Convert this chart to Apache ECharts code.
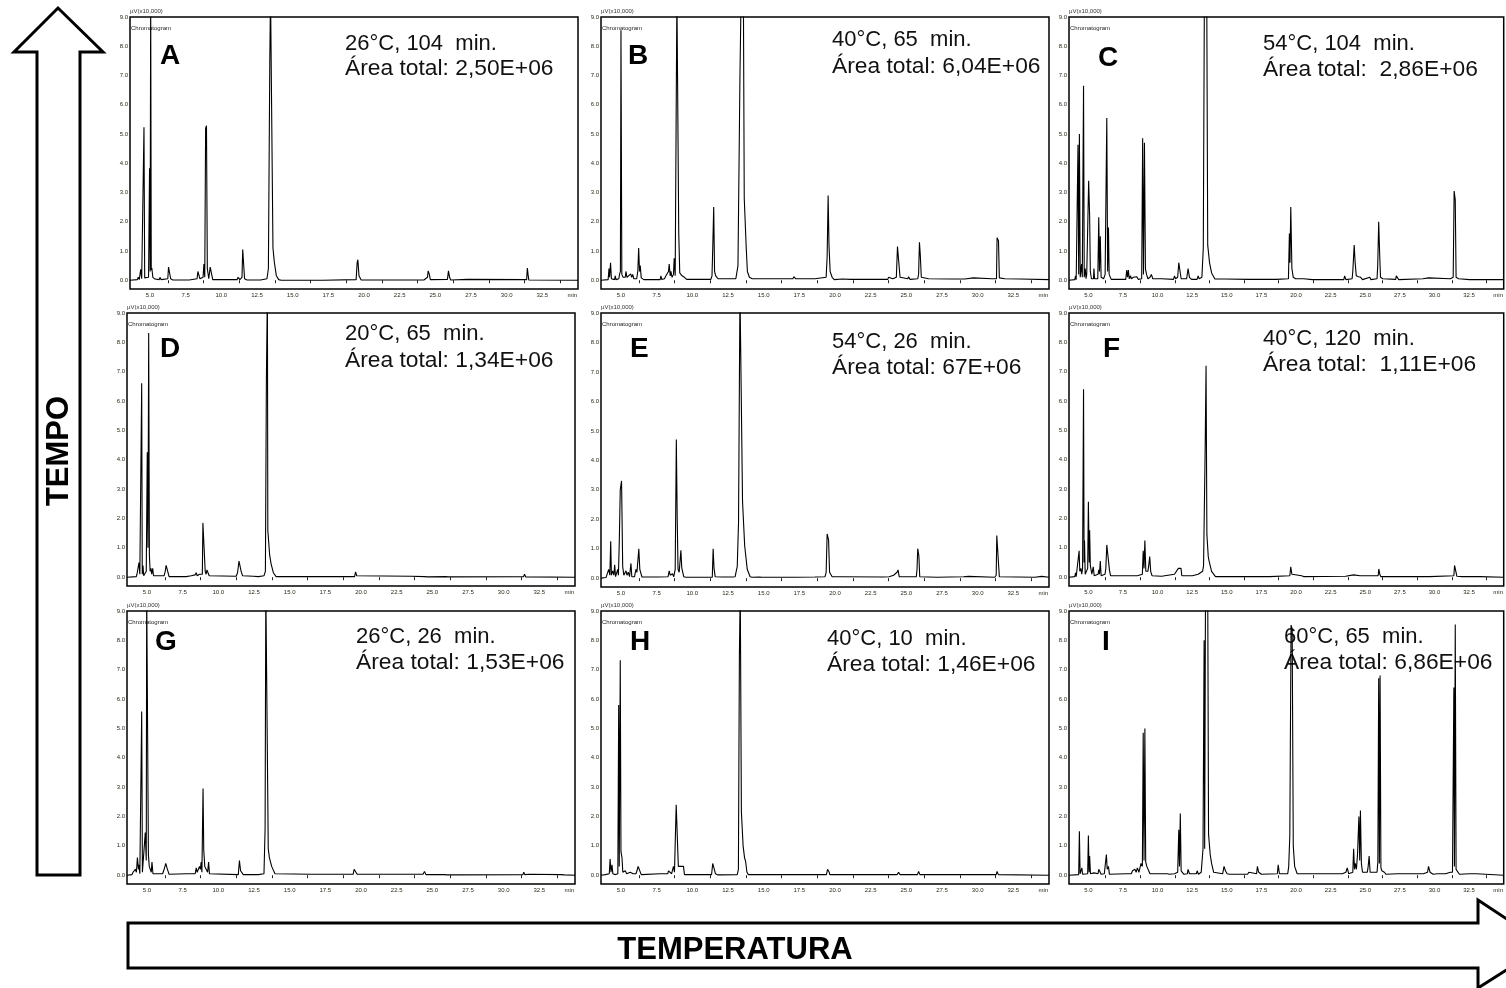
<!DOCTYPE html>
<html>
<head>
    <meta charset='utf-8' />
    <title>Cromatogramas - tempo x temperatura</title>
    <style>
        body {
            margin: 0;
            padding: 0;
            background: #fff;
        }

        #chart {
            position: absolute;
            top: 0;
            left: 0;
            width: 1506px;
            height: 988px;
        }
    </style>
    <script src="https://cdn.jsdelivr.net/npm/echarts@6/dist/echarts.min.js"></script>
</head>
<body>
<div id='chart'></div>
<script type="text/javascript">

    // tick values of every chromatogram
    var xTickLabels = [5.0, 7.5, 10.0, 12.5, 15.0, 17.5, 20.0, 22.5, 25.0, 27.5, 30.0, 32.5];
    var xMinorTicks = [6.25, 8.75, 11.25, 13.75, 16.25, 18.75, 21.25, 23.75, 26.25, 28.75, 31.25, 33.75];
    var xUnitAt = 34.6;
    var yTickLabels = [0, 1, 2, 3, 4, 5, 6, 7, 8, 9];

    var panelLetters = ['A', 'B', 'C', 'D', 'E', 'F', 'G', 'H', 'I'];
    var panelConditions = ['26°C, 104  min.', '40°C, 65  min.', '54°C, 104  min.',
        '20°C, 65  min.', '54°C, 26  min.', '40°C, 120  min.',
        '26°C, 26  min.', '40°C, 10  min.', '60°C, 65  min.'];
    var panelAreas = ['Área total: 2,50E+06', 'Área total: 6,04E+06', 'Área total:  2,86E+06',
        'Área total: 1,34E+06', 'Área total: 67E+06', 'Área total:  1,11E+06',
        'Área total: 1,53E+06', 'Área total: 1,46E+06', 'Área total: 6,86E+06'];

    // [tempo (min), sinal (µV x10,000)]
    var traceA = [[3.6,0],[4.1,0.02],[4.18,0.1],[4.25,0.02],[4.3,0.05],[4.35,0.37],[4.42,0.05],[4.53,0.08],[4.58,5.23],[4.63,0.08],[4.72,0.05],[4.9,0.1],[4.97,3.83],[5.01,0.3],[5.05,9.8],[5.09,0.35],[5.13,0.42],[5.2,0.1],[5.35,0.04],[5.65,0.02],[5.7,0.1],[5.78,0.02],[6.25,0.05],[6.3,0.45],[6.38,0.4],[6.45,0.05],[6.6,0.01],[7.75,0.01],[7.8,0.05],[7.85,0.01],[8.3,0.05],[8.36,0.3],[8.42,0.28],[8.5,0.05],[8.72,0.1],[8.78,0.55],[8.84,0.1],[8.9,5.2],[8.96,5.28],[9.02,0.4],[9.12,0.05],[9.22,0.45],[9.33,0.45],[9.4,0.02],[11.1,0.02],[11.18,0.1],[11.3,0.02],[11.45,0.1],[11.5,1.05],[11.57,1.0],[11.63,0.05],[11.8,0.01],[12.4,0.01],[12.46,0.05],[12.52,0.01],[12.75,0.01],[12.81,0.05],[12.87,0.01],[13.2,0.05],[13.3,0.4],[13.4,7.6],[13.45,9.8],[13.58,9.8],[13.62,1.1],[13.72,0.6],[13.86,0.15],[14.02,0.02],[14.2,0],[17.1,0],[17.12,0.03],[17.15,0],[19.45,0.02],[19.52,0.6],[19.57,0.7],[19.65,0.15],[19.8,0.01],[24.05,0.01],[24.11,0.06],[24.2,0.01],[24.45,0.1],[24.5,0.32],[24.58,0.2],[24.65,0.02],[25.85,0.03],[25.92,0.32],[26.0,0.1],[26.08,0.01],[27.26,0.03],[27.3,0],[31.4,0.02],[31.45,0.42],[31.5,0.2],[31.55,0.01],[35,0]];
    var traceB = [[3.6,0],[4.1,0.02],[4.16,0.4],[4.2,0.1],[4.27,0.6],[4.33,0.05],[4.55,0.02],[4.6,0.15],[4.65,0.02],[4.85,0.05],[4.9,0.2],[4.96,0.3],[5.0,8.55],[5.06,0.2],[5.15,0.1],[5.3,0.1],[5.35,0.3],[5.42,0.1],[5.55,0.1],[5.68,0.22],[5.75,0.1],[5.82,0.2],[5.9,0.05],[6.1,0.05],[6.18,0.3],[6.24,1.1],[6.3,0.3],[6.35,0.5],[6.42,0.08],[6.6,0.02],[7.75,0.02],[7.8,0.15],[7.86,0.03],[8.05,0.05],[8.15,0.15],[8.22,0.1],[8.33,0.3],[8.38,0.55],[8.45,0.15],[8.5,0.3],[8.58,0.1],[8.68,0.2],[8.73,0.75],[8.8,0.15],[8.88,0.2],[8.92,9.8],[9.0,9.8],[9.05,1.6],[9.12,0.25],[9.2,0.2],[9.28,0.15],[9.36,0.2],[9.45,0.1],[9.6,0.03],[11.3,0.03],[11.38,0.15],[11.43,1.05],[11.5,2.5],[11.56,0.3],[11.64,0.15],[11.8,0.05],[12.7,0.05],[12.81,0.08],[13.05,0.05],[13.2,0.5],[13.34,7.0],[13.42,9.8],[13.58,9.8],[13.64,2.8],[13.78,1.1],[13.86,0.3],[14.0,0.1],[14.2,0.05],[16.45,0.05],[16.54,0.1],[16.65,0.05],[17.05,0.05],[17.12,0.12],[17.25,0.05],[18.6,0.05],[18.64,0.08],[18.7,0.03],[19.38,0.1],[19.45,0.8],[19.52,2.9],[19.58,1.2],[19.66,0.3],[19.8,0.1],[19.95,0.02],[20.5,0.04],[20.55,0.02],[21.08,0.03],[23.7,0.03],[23.76,0.1],[23.85,0.05],[24.05,0.05],[24.11,0.1],[24.3,0.1],[24.38,1.15],[24.5,1.15],[24.56,0.1],[24.7,0.05],[25.1,0.05],[25.16,0.12],[25.25,0.03],[25.8,0.05],[25.86,0.2],[25.92,1.3],[25.98,0.85],[26.05,0.1],[26.56,0.05],[26.6,0.02],[28.08,0.04],[29.1,0.04],[29.13,0.08],[29.7,0.08],[29.75,0.02],[31.0,0.05],[31.32,0.05],[31.36,1.45],[31.46,1.35],[31.52,0.08],[31.9,0.05],[32.97,0.04],[33.0,0.02],[35,0.02]];
    var traceC = [[3.6,0],[4.02,0.02],[4.07,0.15],[4.12,0.02],[4.2,0.05],[4.25,4.63],[4.3,0.2],[4.35,5.0],[4.41,0.1],[4.47,0.1],[4.51,0.55],[4.56,0.1],[4.65,6.65],[4.7,0.1],[4.77,0.4],[4.83,0.05],[4.88,0.2],[4.93,1.3],[5.02,3.4],[5.09,2.2],[5.14,0.3],[5.22,0.05],[5.37,0.05],[5.4,0.4],[5.45,0.05],[5.68,0.05],[5.75,2.15],[5.8,0.3],[5.86,1.5],[5.92,0.1],[5.98,0.1],[6.1,0.05],[6.21,0.2],[6.33,5.55],[6.39,0.3],[6.45,1.8],[6.5,0.2],[6.56,0.2],[6.65,0.03],[7.7,0.03],[7.77,0.35],[7.83,0.1],[7.89,0.35],[7.95,0.05],[8.05,0.15],[8.1,0.05],[8.25,0.1],[8.31,0.15],[8.38,0.05],[8.5,0.12],[8.54,0.15],[8.6,0.03],[8.85,0.05],[8.92,4.85],[8.98,0.2],[9.05,4.7],[9.12,0.4],[9.2,0.2],[9.3,0.05],[9.45,0.1],[9.55,0.2],[9.65,0.05],[10.29,0.05],[10.35,0.02],[11.15,0.03],[11.22,0.15],[11.3,0.05],[11.45,0.1],[11.53,0.6],[11.64,0.6],[11.7,0.05],[12.1,0.05],[12.2,0.4],[12.3,0.1],[12.39,0.15],[12.45,0.03],[12.85,0.03],[12.93,0.15],[13.0,0.05],[13.2,0.1],[13.3,1.1],[13.38,9.8],[13.48,9.8],[13.55,9.8],[13.62,1.2],[13.75,0.6],[13.9,0.25],[14.14,0.04],[14.84,0.04],[16.59,0.03],[17.28,0.03],[17.75,0.03],[18.57,0.03],[19.45,0.05],[19.52,1.6],[19.56,0.6],[19.62,2.5],[19.7,0.4],[19.8,0.1],[19.97,0.05],[20.55,0.05],[21.18,0.02],[23.45,0.02],[23.51,0.15],[23.6,0.02],[24.05,0.05],[24.1,0.3],[24.2,1.2],[24.27,0.6],[24.35,0.15],[24.51,0.12],[24.67,0.1],[24.8,0.02],[25.33,0.1],[25.4,0.02],[25.85,0.05],[25.9,0.5],[25.97,2.0],[26.04,0.9],[26.1,0.1],[26.26,0.05],[27.2,0.03],[27.24,0.15],[27.35,0.15],[27.42,0.02],[29.17,0.05],[29.57,0.08],[29.65,0.02],[31.15,0.05],[31.35,0.1],[31.42,3.05],[31.5,2.75],[31.56,0.1],[31.74,0.05],[32.55,0.02],[35,0.02]];
    var traceD = [[3.6,0],[4.25,0.02],[4.3,0.1],[4.37,0.05],[4.44,0.5],[4.5,0.1],[4.58,0.1],[4.63,6.61],[4.67,0.1],[4.72,0.4],[4.77,0.05],[4.95,0.2],[5.02,4.26],[5.07,1.0],[5.12,8.32],[5.17,0.75],[5.22,0.2],[5.28,0.3],[5.33,0.1],[5.4,0.3],[5.46,0.05],[5.58,0.03],[6.2,0.05],[6.28,0.2],[6.34,0.4],[6.4,0.3],[6.48,0.15],[6.55,0.02],[7.75,0.02],[7.8,0.05],[8.1,0.05],[8.38,0.08],[8.45,0.15],[8.52,0.05],[8.68,0.1],[8.73,0.15],[8.8,0.05],[8.88,0.1],[8.92,1.85],[9.02,1.85],[9.08,0.2],[9.15,0.1],[9.2,0.25],[9.3,0.3],[9.36,0.05],[11.25,0.03],[11.35,0.15],[11.45,0.55],[11.53,0.5],[11.6,0.2],[11.7,0.05],[11.76,0.02],[12.46,0.03],[12.81,0.02],[13.2,0.05],[13.3,0.2],[13.37,6.75],[13.44,9.8],[13.47,1.6],[13.6,0.75],[13.7,0.45],[13.86,0.15],[14.05,0.02],[19.55,0.02],[19.62,0.18],[19.7,0.05],[19.8,0.01],[23.53,0.03],[24.45,0.02],[24.53,0.05],[24.65,0.01],[25.95,0.02],[26.03,0.08],[26.1,0.01],[31.4,0.02],[31.46,0.1],[31.55,0.01],[35,0]];
    var traceE = [[3.6,0],[3.95,0.02],[4.0,0.05],[4.08,0.05],[4.14,0.3],[4.22,0.1],[4.28,1.25],[4.33,0.1],[4.42,0.25],[4.5,0.1],[4.56,0.45],[4.62,0.05],[4.72,0.1],[4.77,0.3],[4.82,0.1],[4.88,1.2],[4.95,3.0],[5.04,3.3],[5.12,0.4],[5.2,0.1],[5.3,0.15],[5.35,0.25],[5.42,0.1],[5.51,0.2],[5.6,0.05],[5.7,0.5],[5.76,0.05],[5.82,0.1],[5.95,0.05],[6.05,0.3],[6.12,0.2],[6.17,0.25],[6.25,1.0],[6.32,0.3],[6.4,0.3],[6.47,0.04],[7.6,0.04],[7.68,0.05],[8.3,0.05],[8.38,0.25],[8.45,0.1],[8.55,0.15],[8.61,0.15],[8.7,0.05],[8.8,0.3],[8.88,4.71],[8.94,2.05],[9.0,0.3],[9.08,0.2],[9.2,0.95],[9.26,0.35],[9.32,0.35],[9.4,0.05],[9.55,0.03],[11.4,0.03],[11.46,1.0],[11.52,0.35],[11.6,0.05],[12.1,0.04],[12.8,0.04],[12.86,0.08],[13.0,0.05],[13.15,0.4],[13.24,1.9],[13.34,9.8],[13.48,9.8],[13.52,2.6],[13.67,1.1],[13.85,0.3],[14.05,0.05],[14.2,0.03],[14.7,0.04],[14.79,0.06],[14.9,0.03],[16.5,0.03],[16.54,0.06],[16.6,0.03],[17.05,0.03],[17.12,0.06],[17.2,0.03],[18.6,0.04],[18.64,0.07],[18.7,0.03],[19.3,0.05],[19.38,0.2],[19.45,1.5],[19.55,1.3],[19.62,0.2],[19.8,0.05],[20.38,0.05],[20.42,0.02],[23.41,0.04],[23.8,0.05],[24.11,0.1],[24.25,0.15],[24.35,0.2],[24.42,0.28],[24.5,0.05],[25.16,0.05],[25.7,0.05],[25.75,0.3],[25.8,1.0],[25.88,0.75],[25.94,0.05],[27.14,0.03],[29.0,0.05],[29.36,0.06],[29.4,0.03],[31.2,0.03],[31.3,0.1],[31.34,1.45],[31.46,1.45],[31.52,0.05],[31.6,0.03],[34.0,0.03],[34.02,0.06],[34.49,0.06],[34.55,0.03],[35,0.03]];
    var traceF = [[3.6,0],[4.02,0.02],[4.07,0.15],[4.12,0.02],[4.25,0.05],[4.33,0.9],[4.38,0.2],[4.46,0.3],[4.52,0.1],[4.58,0.3],[4.65,6.4],[4.69,0.5],[4.72,1.25],[4.77,0.1],[4.86,0.1],[4.95,0.3],[5.0,2.57],[5.06,0.5],[5.09,1.6],[5.14,0.4],[5.19,0.35],[5.25,0.1],[5.3,0.1],[5.35,0.35],[5.42,0.05],[5.7,0.1],[5.75,0.25],[5.8,0.1],[5.86,0.55],[5.92,0.05],[6.2,0.1],[6.26,0.3],[6.33,1.1],[6.45,1.1],[6.52,0.25],[6.6,0.05],[6.91,0.05],[7.84,0.05],[8.08,0.05],[8.3,0.05],[8.54,0.05],[8.9,0.1],[8.96,0.9],[9.02,0.3],[9.08,1.25],[9.15,0.2],[9.3,0.2],[9.36,0.4],[9.43,0.7],[9.5,0.2],[9.6,0.05],[10.29,0.03],[11.22,0.1],[11.35,0.05],[11.5,0.3],[11.57,0.35],[11.69,0.3],[11.75,0.05],[12.51,0.05],[12.93,0.1],[13.05,0.05],[13.25,0.2],[13.32,0.4],[13.44,4.53],[13.5,7.2],[13.56,1.45],[13.66,0.7],[13.72,0.55],[13.9,0.2],[14.18,0.02],[18.1,0.02],[19.55,0.05],[19.62,0.35],[19.7,0.1],[19.78,0.05],[20.4,0.05],[20.48,0.1],[20.55,0.02],[23.58,0.03],[24.16,0.08],[24.25,0.04],[24.63,0.05],[24.7,0.02],[25.93,0.05],[25.98,0.28],[26.05,0.1],[26.12,0.02],[27.31,0.02],[29.64,0.02],[31.4,0.05],[31.45,0.4],[31.57,0.4],[31.62,0.03],[31.97,0.02],[33.25,0.02],[35,0]];
    var traceG = [[3.6,0],[3.95,0.02],[4.02,0.1],[4.1,0.05],[4.18,0.2],[4.26,0.1],[4.33,0.6],[4.4,0.2],[4.44,0.35],[4.5,0.05],[4.58,0.05],[4.63,5.58],[4.68,0.1],[4.72,0.15],[4.8,0.1],[4.88,1.45],[4.95,0.5],[4.98,9.8],[5.06,9.8],[5.1,0.7],[5.16,0.3],[5.23,0.3],[5.3,0.1],[5.35,0.45],[5.42,0.05],[5.5,0.05],[5.82,0.05],[6.1,0.05],[6.17,0.15],[6.25,0.1],[6.32,0.4],[6.4,0.25],[6.47,0.25],[6.55,0.03],[7.8,0.05],[7.85,0.02],[8.38,0.05],[8.45,0.25],[8.52,0.1],[8.62,0.1],[8.68,0.3],[8.74,0.2],[8.8,0.45],[8.85,0.1],[8.93,2.95],[8.98,0.85],[9.05,0.3],[9.15,0.2],[9.25,0.1],[9.32,0.45],[9.38,0.05],[9.48,0.02],[11.4,0.02],[11.48,0.5],[11.56,0.15],[11.64,0.1],[11.75,0.02],[12.81,0.02],[13.2,0.05],[13.28,1.6],[13.33,9.8],[13.45,9.8],[13.5,0.9],[13.58,0.6],[13.74,0.3],[13.97,0.05],[14.1,0.02],[16.54,0.03],[19.45,0.03],[19.52,0.2],[19.62,0.15],[19.73,0.03],[24.35,0.03],[24.45,0.13],[24.55,0.02],[25.85,0.02],[25.91,0.08],[26.0,0.01],[31.35,0.02],[31.41,0.1],[31.48,0.02],[31.81,0.03],[34.05,0.02],[34.14,0.05],[34.25,0.01],[35,0]];
    var traceH = [[3.6,0],[3.9,0.02],[3.95,0.08],[4.0,0.02],[4.18,0.05],[4.24,0.55],[4.3,0.1],[4.37,0.35],[4.43,0.05],[4.56,0.1],[4.62,0.02],[4.78,0.05],[4.84,5.8],[4.88,0.3],[4.95,7.32],[5.0,0.8],[5.07,0.6],[5.13,0.1],[5.3,0.15],[5.4,0.05],[5.65,0.1],[5.77,0.1],[5.85,0.05],[6.05,0.05],[6.12,0.15],[6.2,0.3],[6.28,0.2],[6.35,0.15],[6.42,0.02],[7.75,0.05],[7.8,0.01],[8.28,0.05],[8.33,0.15],[8.45,0.1],[8.55,0.05],[8.62,0.1],[8.68,0.3],[8.75,0.1],[8.87,2.4],[8.96,2.4],[9.02,0.3],[9.1,0.3],[9.2,0.3],[9.3,0.3],[9.38,0.3],[9.45,0.02],[11.35,0.02],[11.43,0.4],[11.53,0.4],[11.62,0.05],[11.71,0.05],[11.8,0.01],[13.15,0.02],[13.23,0.2],[13.3,7.5],[13.36,9.8],[13.39,9.8],[13.44,2.15],[13.56,1.0],[13.66,0.6],[13.74,0.45],[13.83,0.1],[13.93,0.02],[19.4,0.02],[19.48,0.2],[19.58,0.12],[19.64,0.02],[24.35,0.02],[24.46,0.1],[24.55,0.02],[25.78,0.02],[25.86,0.13],[25.95,0.02],[31.3,0.02],[31.36,0.13],[31.45,0.02],[35,0]];
    var traceI = [[3.6,0],[4.3,0.02],[4.35,1.5],[4.4,0.05],[4.48,0.05],[4.53,0.25],[4.58,0.03],[4.7,0.05],[4.95,0.05],[5.0,1.35],[5.05,0.1],[5.09,0.65],[5.15,0.05],[5.21,0.05],[5.4,0.08],[5.7,0.05],[5.75,0.2],[5.86,0.2],[5.92,0.03],[6.15,0.05],[6.21,0.1],[6.3,0.7],[6.36,0.2],[6.45,0.3],[6.52,0.03],[7.73,0.05],[8.1,0.05],[8.19,0.15],[8.3,0.1],[8.36,0.2],[8.45,0.1],[8.54,0.25],[8.65,0.1],[8.8,0.4],[8.9,0.3],[8.96,4.85],[9.02,0.5],[9.08,5.0],[9.14,0.45],[9.22,0.3],[9.3,0.3],[9.36,0.3],[9.45,0.05],[10.7,0.05],[10.76,0.1],[10.85,0.03],[11.22,0.05],[11.45,0.1],[11.53,1.55],[11.58,0.3],[11.64,2.1],[11.7,0.15],[11.76,0.1],[11.9,0.03],[12.15,0.05],[12.2,0.2],[12.3,0.05],[12.51,0.05],[12.8,0.05],[12.86,0.15],[12.95,0.03],[13.15,0.1],[13.28,0.9],[13.36,8.0],[13.4,0.9],[13.46,9.8],[13.62,9.8],[13.68,1.4],[13.8,0.7],[13.9,0.4],[14.05,0.1],[14.14,0.05],[14.7,0.05],[14.8,0.3],[14.9,0.15],[15.02,0.05],[15.2,0.03],[16.5,0.03],[16.59,0.1],[16.7,0.05],[17.15,0.05],[17.21,0.3],[17.3,0.1],[17.4,0.1],[17.5,0.03],[18.65,0.05],[18.71,0.35],[18.8,0.05],[18.85,0.03],[19.4,0.05],[19.47,0.3],[19.55,1.35],[19.64,8.52],[19.72,8.4],[19.8,1.0],[19.9,0.3],[20.08,0.05],[20.2,0.02],[21.25,0.05],[21.3,0.02],[22.88,0.05],[23.35,0.05],[23.6,0.1],[23.7,0.25],[23.8,0.05],[24.1,0.1],[24.16,0.9],[24.22,0.2],[24.28,0.4],[24.36,0.2],[24.44,0.7],[24.54,2.0],[24.6,0.5],[24.65,2.2],[24.72,0.4],[24.8,0.1],[25.15,0.1],[25.21,0.3],[25.28,0.65],[25.35,0.1],[25.4,0.05],[25.85,0.1],[25.91,0.45],[25.97,6.71],[26.02,0.4],[26.07,6.8],[26.13,0.25],[26.2,0.15],[26.38,0.1],[26.5,0.03],[27.31,0.05],[28.12,0.05],[29.0,0.05],[29.06,0.1],[29.2,0.05],[29.5,0.1],[29.57,0.3],[29.68,0.1],[29.76,0.1],[29.9,0.03],[30.22,0.05],[30.8,0.05],[31.15,0.1],[31.3,0.1],[31.4,6.39],[31.44,0.3],[31.5,8.54],[31.56,0.2],[31.67,0.15],[31.8,0.03],[32.55,0.05],[33.02,0.05],[33.1,0.02],[35,0]];

    var traces = [traceA, traceB, traceC, traceD, traceE, traceF, traceG, traceH, traceI];

    // layout of the 3x3 panels (pixels)
    var gridBoxes = [[130, 17, 272], [601, 17, 272], [1069, 17, 272],
        [127, 313, 273], [601, 313, 274], [1069, 313, 273],
        [127, 611, 273], [601, 611, 273], [1069, 611, 273]];
    var letterPos = [[160, 56], [628, 56], [1098, 58], [160, 349], [630, 349], [1103, 349], [155, 642], [630, 642], [1102, 642]];
    var notePos = [[345, 43.5, 68.5], [832, 39.5, 66.5], [1263, 43.5, 69.5], [345, 333.5, 360.5], [832, 341.5, 367.5], [1263, 338.5, 364.5], [356, 636.5, 662.5], [827, 638.5, 664.5], [1284, 636.5, 662.5]];

    var FONT = "'Liberation Sans', Arial, Helvetica, sans-serif";
    var chart = echarts.init(document.getElementById('chart'));

    var grids = [], xAxes = [], yAxes = [], series = [], graphics = [];

    for (var i = 0; i < 9; i++) {
        grids.push({
            left: gridBoxes[i][0], top: gridBoxes[i][1], width: 448, height: gridBoxes[i][2],
            show: true, borderColor: '#000', borderWidth: 1.5, backgroundColor: 'transparent'
        });
        xAxes.push({
            type: 'value', gridIndex: i, min: 3.6, max: 35,
            axisLine: { show: false },
            splitLine: { show: false },
            axisTick: { show: true, customValues: xMinorTicks, length: 3, lineStyle: { color: '#222', width: 1 } },
            axisLabel: {
                customValues: xTickLabels.concat([xUnitAt]),
                formatter: function (v) { return v > 34 ? 'min' : v.toFixed(1); },
                fontSize: 6, color: '#2a2a1a', margin: 3, fontFamily: FONT
            }
        });
        yAxes.push({
            type: 'value', gridIndex: i, min: -0.3, max: 9,
            name: 'µV(x10,000)', nameLocation: 'end', nameGap: 2,
            nameTextStyle: { fontSize: 6, color: '#333', align: 'left', fontFamily: FONT },
            axisLine: { show: false },
            splitLine: { show: false },
            axisTick: { show: false },
            axisLabel: {
                customValues: yTickLabels,
                formatter: function (v) { return v.toFixed(1); },
                fontSize: 6, color: '#2a2a1a', margin: 2, fontFamily: FONT
            }
        });
        series.push({
            type: 'line', xAxisIndex: i, yAxisIndex: i,
            data: traces[i], showSymbol: false, symbol: 'none',
            lineStyle: { color: '#000', width: 1.1 },
            clip: true, animation: false, z: 3
        });

        graphics.push({
            type: 'text', z: 1,
            style: { text: 'Chromatogram', x: gridBoxes[i][0] + 1, y: gridBoxes[i][1] + 11,
                font: '6px ' + FONT, fill: '#222', textVerticalAlign: 'middle', verticalAlign: 'middle' }
        });
        graphics.push({
            type: 'text', z: 1,
            style: { text: panelLetters[i], x: letterPos[i][0], y: letterPos[i][1],
                font: 'bold 28px ' + FONT, fill: '#000', textVerticalAlign: 'middle', verticalAlign: 'middle' }
        });
        graphics.push({
            type: 'text', z: 1,
            style: { text: panelConditions[i], x: notePos[i][0], y: notePos[i][1],
                font: '22px ' + FONT, fill: '#111', textVerticalAlign: 'middle', verticalAlign: 'middle' }
        });
        graphics.push({
            type: 'text', z: 1,
            style: { text: panelAreas[i], x: notePos[i][0], y: notePos[i][2],
                font: '22.8px ' + FONT, fill: '#111', textVerticalAlign: 'middle', verticalAlign: 'middle' }
        });
    }

    // TEMPO arrow (up)
    graphics.push({
        type: 'polygon', z: 0,
        shape: { points: [[37, 875], [80, 875], [80, 52], [103, 52], [58, 8], [14, 52], [37, 52]] },
        style: { fill: '#fff', stroke: '#000', lineWidth: 3 }
    });
    graphics.push({
        type: 'text', z: 1, x: 59, y: 451, rotation: Math.PI / 2,
        style: { text: 'TEMPO', x: 0, y: 0, font: 'bold 31px ' + FONT, fill: '#000',
            textAlign: 'center', align: 'center', textVerticalAlign: 'middle', verticalAlign: 'middle' }
    });
    // TEMPERATURA arrow (right)
    graphics.push({
        type: 'polygon', z: 0,
        shape: { points: [[128, 923], [1478, 923], [1478, 900], [1546, 945], [1478, 988], [1478, 968], [128, 968]] },
        style: { fill: '#fff', stroke: '#000', lineWidth: 3 }
    });
    graphics.push({
        type: 'text', z: 1,
        style: { text: 'TEMPERATURA', x: 735, y: 950, font: 'bold 31px ' + FONT, fill: '#000',
            textAlign: 'center', align: 'center', textVerticalAlign: 'middle', verticalAlign: 'middle' }
    });

    chart.setOption({
        backgroundColor: '#fff',
        animation: false,
        grid: grids,
        xAxis: xAxes,
        yAxis: yAxes,
        series: series,
        graphic: graphics
    });
</script>
</body>
</html>
